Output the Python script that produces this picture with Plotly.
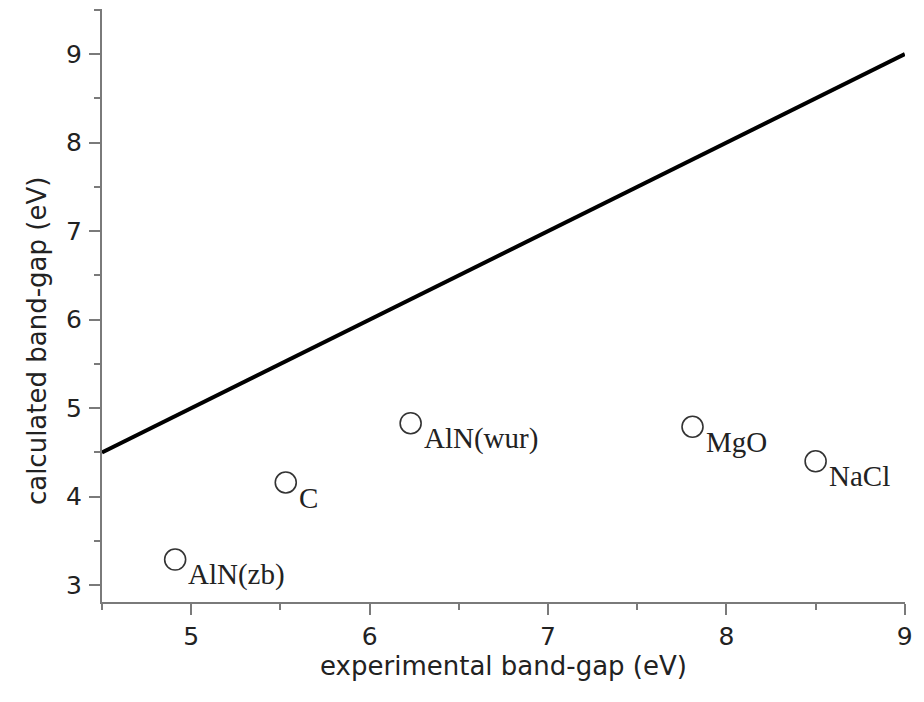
import plotly.graph_objects as go

# Data
materials = ["AlN(zb)", "C", "AlN(wur)", "MgO", "NaCl"]
experimental = [4.91, 5.53, 6.23, 7.81, 8.50]
calculated = [3.29, 4.16, 4.83, 4.79, 4.40]
ideal_x = [4.5, 9.0]
ideal_y = [4.5, 9.0]
x_ticks = [5, 6, 7, 8, 9]
y_ticks = [3, 4, 5, 6, 7, 8, 9]

fig = go.Figure()
fig.add_trace(go.Scatter(
    x=ideal_x, y=ideal_y, mode="lines",
    line=dict(color="black", width=4), showlegend=False, hoverinfo="skip"))
fig.add_trace(go.Scatter(
    x=experimental, y=calculated, mode="markers",
    marker=dict(symbol="circle-open", size=21, color="#333333",
                line=dict(width=1.6, color="#333333")),
    showlegend=False))

for name, xv, yv in zip(materials, experimental, calculated):
    fig.add_annotation(x=xv, y=yv, text=name, showarrow=False,
                       xanchor="left", yanchor="middle", xshift=11, yshift=-15,
                       font=dict(family="Liberation Serif", size=29, color="#222222"))

# y-axis title placed as rotated text to the left of the tick labels
fig.add_annotation(xref="paper", yref="paper", x=0, y=0.44, xshift=-65,
                   text="calculated band-gap (eV)", textangle=-90, showarrow=False,
                   xanchor="center", yanchor="middle",
                   font=dict(family="DejaVu Sans", size=26, color="#222222"))

axis_common = dict(
    showline=True, linecolor="#7a7a7a", linewidth=2,
    ticks="outside", ticklen=11, tickwidth=2, tickcolor="#7a7a7a",
    showgrid=False, zeroline=False, automargin=False,
    tickfont=dict(family="DejaVu Sans", size=25, color="#222222"),
    minor=dict(ticks="outside", ticklen=6, tickwidth=2, tickcolor="#7a7a7a", dtick=0.5, showgrid=False),
)

fig.update_layout(
    width=924, height=702,
    margin=dict(l=94, r=27, t=1, b=108),
    paper_bgcolor="white", plot_bgcolor="white",
    xaxis=dict(range=[4.5, 9.001], tickvals=x_ticks, ticktext=[str(v) for v in x_ticks],
               ticklabelstandoff=0,
               title=dict(text="experimental band-gap (eV)", standoff=1,
                          font=dict(family="DejaVu Sans", size=26, color="#222222")),
               **axis_common),
    yaxis=dict(range=[2.81, 9.51], tickvals=y_ticks, ticktext=[str(v) for v in y_ticks],
               ticklabelstandoff=2,
               **axis_common),
)

fig.write_html("out.html")
